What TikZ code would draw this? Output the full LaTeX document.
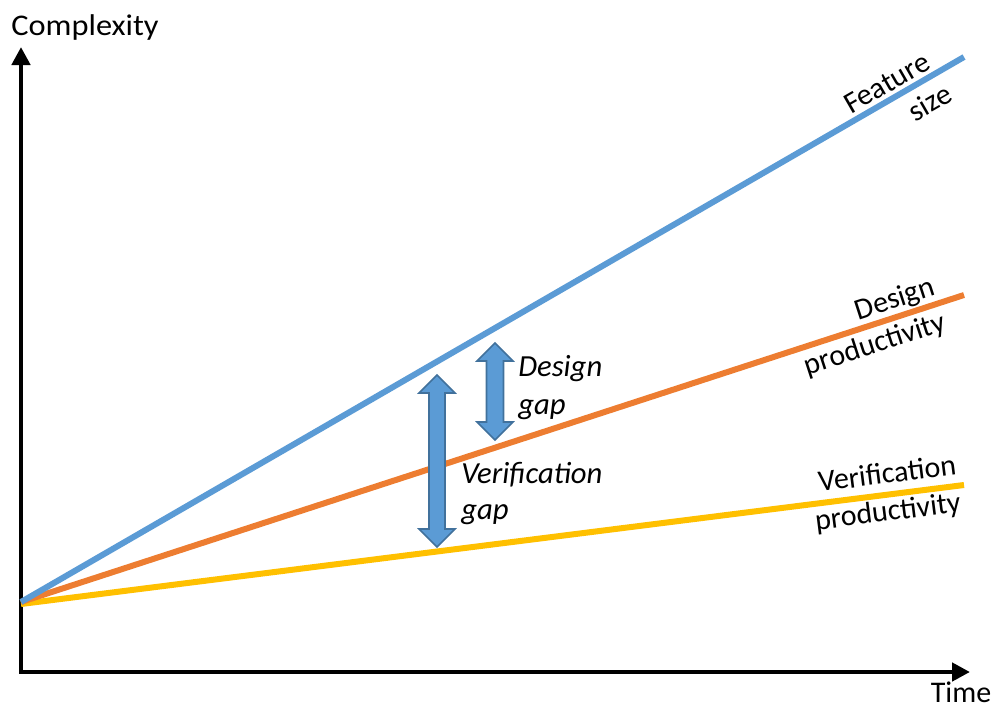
\documentclass[tikz,border=0pt]{standalone}
\usepackage{fontspec}
\setmainfont{Carlito}
\usetikzlibrary{arrows.meta}
\definecolor{featblue}{HTML}{5B9BD5}
\definecolor{desorange}{HTML}{ED7D31}
\definecolor{veryellow}{HTML}{FFC000}
\definecolor{gapedge}{HTML}{41719C}
\tikzset{
  axis/.style={line width=3.6pt, -{Triangle[length=13.5pt,width=13.5pt]}},
  trend/.style={line width=4.5pt},
  lbl/.style={font=\fontsize{22.5}{26}\selectfont, inner sep=0pt},
  gaplbl/.style={font=\fontsize{23}{26}\selectfont\itshape, inner sep=0pt, anchor=west},
  gaparrow/.style={fill=featblue, draw=gapedge, line width=1.2pt, line join=miter}
}
\begin{document}
\begin{tikzpicture}[x=0.75pt,y=-0.75pt]
\useasboundingbox (0,0) rectangle (999,707);

% axes
\coordinate (origin) at (21,672);
\coordinate (ytip) at (21,47);
\coordinate (xtip) at (970,672);
\draw[axis] (origin) -- (ytip);
\draw[axis] (origin) -- (xtip);
\fill (origin) ++(-1.8,-1.8) rectangle ++(3.6,3.6);
\node[lbl, xscale=1.08] (ylab) at (85,27) {Complexity};
\node[lbl] (xlab) at (961,692) {Time};

% trend lines
\coordinate (start) at (21,602);
\coordinate (featend) at (964,57);
\coordinate (desend) at (964,295);
\coordinate (verstart) at (21,604);
\coordinate (verend) at (964,485);
\draw[trend, veryellow] (verstart) -- (verend);
\draw[trend, desorange] (start) -- (desend);
\draw[trend, featblue] (start) -- (featend);

% line labels
\node[lbl, rotate=30] (feat1) at (887,83) {Feature};
\node[lbl, rotate=30] (feat2) at (930,102) {size};
\node[lbl, rotate=18] (des1) at (895,300) {Design};
\node[lbl, rotate=18] (des2) at (875,345) {productivity};
\node[lbl, rotate=7.2] (ver1) at (887,473) {Verification};
\node[lbl, rotate=7.2] (ver2) at (888,513) {productivity};

% design gap arrow
\draw[gaparrow] (495,343) -- (513,361) -- (503.5,361) -- (503.5,422) -- (513,422)
  -- (495,440) -- (477,422) -- (486.5,422) -- (486.5,361) -- (477,361) -- cycle;
% verification gap arrow
\draw[gaparrow] (437,375) -- (455,393) -- (445,393) -- (445,529) -- (455,529)
  -- (437,547) -- (419,529) -- (429,529) -- (429,393) -- (419,393) -- cycle;

\node[gaplbl] (dg1) at (518,369) {Design};
\node[gaplbl] (dg2) at (518,410) {gap};
\node[gaplbl] (vg1) at (461,475) {Verification};
\node[gaplbl] (vg2) at (461,515) {gap};
\end{tikzpicture}
\end{document}
